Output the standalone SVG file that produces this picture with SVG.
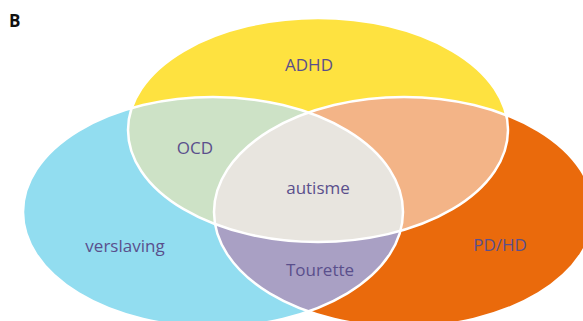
<svg xmlns="http://www.w3.org/2000/svg" width="583" height="321" viewBox="0 0 583 321">
  <style>
    .lbl { font-family: "Open Sans", "Noto Sans", "Liberation Sans", sans-serif; font-size: 17px; fill: #5a4f8c; text-anchor: middle; }
    .outline { fill: none; stroke: #ffffff; stroke-width: 2.5; }
  </style>
  <defs>
    <!-- three base ellipses -->
    <ellipse id="e-top" cx="318" cy="130" rx="190" ry="112"/>
    <ellipse id="e-left" cx="213" cy="212" rx="190" ry="115"/>
    <ellipse id="e-right" cx="404" cy="212" rx="190" ry="115"/>
    <clipPath id="clip-left"><use href="#e-left"/></clipPath>
    <clipPath id="clip-right"><use href="#e-right"/></clipPath>
  </defs>

  <rect width="583" height="321" fill="#ffffff"/>
  <text x="9" y="27" font-family="Open Sans, Liberation Sans, sans-serif" font-size="17" font-weight="bold" fill="#111111">B</text>

  <!-- single-set areas -->
  <g id="adhd"><use href="#e-top" fill="#fee240"/></g>
  <g id="verslaving"><use href="#e-left" fill="#92ddf0"/></g>
  <g id="pdhd"><use href="#e-right" fill="#ea6a0c"/></g>

  <!-- pairwise overlaps -->
  <g id="ocd" clip-path="url(#clip-left)"><use href="#e-top" fill="#cde2c6"/></g>
  <g id="adhd-pdhd" clip-path="url(#clip-right)"><use href="#e-top" fill="#f3b487"/></g>
  <g id="tourette" clip-path="url(#clip-right)"><use href="#e-left" fill="#a9a0c4"/></g>

  <!-- triple overlap -->
  <g id="autisme" clip-path="url(#clip-right)">
    <g clip-path="url(#clip-left)"><use href="#e-top" fill="#e8e5df"/></g>
  </g>

  <!-- white borders -->
  <g id="borders">
    <use href="#e-top" class="outline"/>
    <use href="#e-left" class="outline"/>
    <use href="#e-right" class="outline"/>
  </g>

  <g id="labels">
    <text class="lbl" x="309" y="71">ADHD</text>
    <text class="lbl" x="195" y="154">OCD</text>
    <text class="lbl" x="318" y="194">autisme</text>
    <text class="lbl" x="125" y="252">verslaving</text>
    <text class="lbl" x="320" y="276">Tourette</text>
    <text class="lbl" x="500" y="251">PD/HD</text>
  </g>
</svg>
